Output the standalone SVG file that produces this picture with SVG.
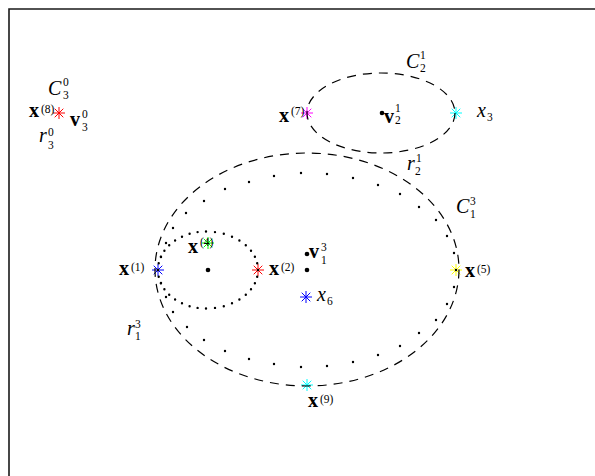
<svg xmlns="http://www.w3.org/2000/svg" xmlns:xlink="http://www.w3.org/1999/xlink" width="595" height="476" viewBox="0 0 595 476">
  <style>
    .mi { font-family: "Liberation Serif", "DejaVu Serif", serif; font-size: 20px; font-style: italic; fill: #000; }
    .bf { font-family: "Liberation Serif", "DejaVu Serif", serif; font-size: 20px; font-weight: bold; fill: #000; }
    .sc { font-family: "Liberation Serif", "DejaVu Serif", serif; font-size: 11.5px; fill: #000; }
    .dash { fill: none; stroke: #000; stroke-width: 1.2; stroke-dasharray: 9 7; }
    .dots { fill: none; stroke: #000; stroke-width: 2.4; stroke-linecap: round; }
    .pt { fill: #000; }
  </style>
  <defs>
    <!-- asterisk plot marker: plus and cross combined -->
    <g id="ast" fill="none" stroke-width="1">
      <path d="M-6 0H6M0 -6V6M-4.3 -4.3L4.3 4.3M-4.3 4.3L4.3 -4.3"/>
    </g>
  </defs>

  <rect width="595" height="476" fill="#fff"/>
  <!-- axes frame -->
  <path d="M9 476V9H595" fill="none" stroke="#1a1a1a" stroke-width="1.6"/>

  <!-- markers -->
  <g id="markers">
    <use xlink:href="#ast" x="59" y="113" stroke="#ff0000"/>
    <use xlink:href="#ast" x="307" y="113" stroke="#ff00ff"/>
    <use xlink:href="#ast" x="456" y="113" stroke="#00ffff"/>
    <use xlink:href="#ast" x="158" y="270" stroke="#0000ff"/>
    <use xlink:href="#ast" x="208" y="243" stroke="#00ff00"/>
    <use xlink:href="#ast" x="258" y="270" stroke="#ff0000"/>
    <use xlink:href="#ast" x="306" y="297" stroke="#0000ff"/>
    <use xlink:href="#ast" x="456" y="270" stroke="#ffff00"/>
    <use xlink:href="#ast" x="307" y="385" stroke="#00ffff"/>
  </g>

  <!-- cluster boundaries -->
  <g id="connectors">
    <ellipse id="C21" class="dash" cx="381" cy="113" rx="74" ry="40"/>
    <ellipse id="C13" class="dash" cx="307" cy="269.5" rx="152" ry="116.5"/>
    <!-- outer dotted radius curve r_2^1 -->
    <path id="r21" class="dots" d="M456 270h0M454 253h0M447 236h0M436 220h0M419 207h0M400 194h0M378 185h0M353 178h0M327 174h0M301 173h0M274 176h0M249 182h0M225 189h0M204 201h0M186 213h0M173 228h0M166 243h0M161 257h0M158 270h0
      M161 283h0M166 297h0M173 312h0M187 327h0M204 340h0M225 351h0M249 359h0M274 364h0M301 367h0M327 366h0M353 362h0M378 355h0M400 346h0M419 333h0M436 320h0M447 304h0M454 287h0"/>
    <!-- inner dotted radius curve r_1^3 -->
    <path id="r13" class="dots" d="M258 270h0M257.2 263.3h0M254.9 256.8h0M251 250.8h0M245.8 245.2h0M239.4 240.5h0M232 236.7h0M223.8 233.8h0M215 232.1h0M206 231.5h0M197.6 232.1h0M189.6 233.8h0M182 236.7h0M175.1 240.5h0M169.2 245.2h0M164.4 250.8h0M160.9 256.8h0M158.7 263.3h0M158 270h0
      M158.7 276.7h0M160.9 283.2h0M164.4 289.2h0M169.2 294.8h0M175.1 299.5h0M182 303.3h0M189.6 306.2h0M197.6 307.9h0M206 308.5h0M215 307.9h0M223.8 306.2h0M232 303.3h0M239.4 299.5h0M245.8 294.8h0M251 289.2h0M254.9 283.2h0M257.2 276.7h0"/>
  </g>

  <!-- centres -->
  <g id="centres">
    <circle class="pt" cx="382" cy="113" r="2.3"/>
    <circle class="pt" cx="208" cy="270" r="2.3"/>
    <circle class="pt" cx="307" cy="270" r="2.3"/>
    <circle class="pt" cx="307" cy="254" r="2.3"/>
  </g>

  <!-- labels -->
  <g id="lbl-C30"><text class="mi" x="48" y="95">C</text><text class="sc" x="63" y="86">0</text><text class="sc" x="63" y="98.5">3</text></g>
  <g id="lbl-x8"><text class="bf" x="29" y="117">x</text><text class="sc" x="41" y="113">(8)</text></g>
  <g id="lbl-v30"><text class="bf" x="70" y="126">v</text><text class="sc" x="82" y="118">0</text><text class="sc" x="82" y="130.5">3</text></g>
  <g id="lbl-r30"><text class="mi" x="39" y="142">r</text><text class="sc" x="48" y="136">0</text><text class="sc" x="48" y="149">3</text></g>
  <g id="lbl-C21"><text class="mi" x="406" y="68">C</text><text class="sc" x="420" y="59">1</text><text class="sc" x="420" y="71.5">2</text></g>
  <g id="lbl-x7"><text class="bf" x="279" y="122">x</text><text class="sc" x="291" y="115">(7)</text></g>
  <g id="lbl-v21"><text class="bf" x="384" y="123">v</text><text class="sc" x="395" y="111.5">1</text><text class="sc" x="395" y="124">2</text></g>
  <g id="lbl-x3"><text class="mi" x="477" y="117">x</text><text class="sc" x="487" y="121">3</text></g>
  <g id="lbl-r21"><text class="mi" x="407" y="170">r</text><text class="sc" x="416" y="162">1</text><text class="sc" x="415" y="175">2</text></g>
  <g id="lbl-C13"><text class="mi" x="456" y="213">C</text><text class="sc" x="470" y="205">3</text><text class="sc" x="470" y="217.5">1</text></g>
  <g id="lbl-x1"><text class="bf" x="119" y="275">x</text><text class="sc" x="131" y="271">(1)</text></g>
  <g id="lbl-x4"><text class="bf" x="188" y="253">x</text><text class="sc" x="200" y="246">(4)</text></g>
  <g id="lbl-x2"><text class="bf" x="269" y="275">x</text><text class="sc" x="281" y="271">(2)</text></g>
  <g id="lbl-v13"><text class="bf" x="309" y="258">v</text><text class="sc" x="321" y="251">3</text><text class="sc" x="321" y="263.5">1</text></g>
  <g id="lbl-x6"><text class="mi" x="317" y="301">x</text><text class="sc" x="327" y="304.5">6</text></g>
  <g id="lbl-x5"><text class="bf" x="465" y="277">x</text><text class="sc" x="477" y="273">(5)</text></g>
  <g id="lbl-x9"><text class="bf" x="308" y="407">x</text><text class="sc" x="320" y="403">(9)</text></g>
  <g id="lbl-r13"><text class="mi" x="127" y="335">r</text><text class="sc" x="135" y="327.5">3</text><text class="sc" x="135" y="340">1</text></g>
</svg>
